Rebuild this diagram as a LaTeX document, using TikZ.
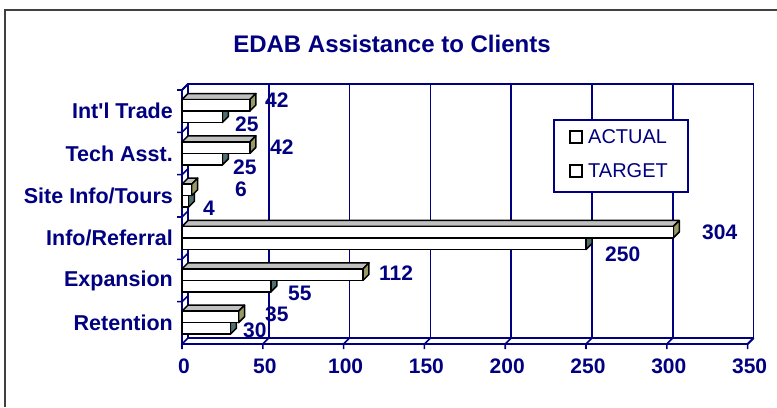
\documentclass[tikz,border=0pt]{standalone}
\usepackage{fontspec}
\setmainfont{Liberation Sans}
\definecolor{navy}{RGB}{0,0,128}
\definecolor{topgrey}{RGB}{192,192,192}
\definecolor{actside}{RGB}{153,153,102}
\definecolor{tgtside}{RGB}{80,112,112}
\definecolor{framegrey}{RGB}{64,64,64}

\tikzset{
  axisline/.style={navy,line width=1.8bp},
  gridline/.style={navy,line width=1.6bp},
  barface/.style={draw=black,line width=1.5bp,line join=round},
  titletext/.style={text=navy,inner sep=0pt,font=\fontsize{24bp}{28bp}\selectfont\bfseries},
  catlabel/.style={anchor=east,text=navy,inner sep=0pt,font=\fontsize{21.5bp}{24bp}\selectfont\bfseries},
  vallabel/.style={anchor=west,text=navy,inner sep=0pt,font=\fontsize{21bp}{24bp}\selectfont\bfseries},
  ticklabel/.style={text=navy,inner sep=0pt,font=\fontsize{21bp}{24bp}\selectfont\bfseries},
  legendtext/.style={anchor=west,text=navy,inner sep=0pt,font=\fontsize{20bp}{24bp}\selectfont},
  legendkey/.style={draw=black,fill=white,line width=1.5bp}
}

\begin{document}
\begin{tikzpicture}[x=1bp,y=-1bp]
  \useasboundingbox[fill=white] (0,0) rectangle (777,407);
  \draw[framegrey,line width=2bp] (5,407) -- (5,10) -- (777,10);
  \node[titletext] (title) at (392,44) {EDAB Assistance to Clients};

  % back wall, grid and floor
  \foreach \v in {50,100,...,300}
    \draw[gridline] ({188+1.616*\v},84) -- ({188+1.616*\v},338);
  \draw[gridline] (188,338) -- (188,84) -- (753.6,84) -- (753.6,338) -- (188,338);
  \foreach \v in {0,50,...,350} {
    \draw[gridline] ({182+1.616*\v},349) -- ({182+1.616*\v},344) -- ({188+1.616*\v},338);
    \node[ticklabel] (x\v) at ({184+1.616*\v},366) {\v};
  }
  \draw[axisline] (753.6,338) -- (747.6,344) -- (182,344) -- (182,90) -- (188,84);
  \foreach \i in {0,...,5}
    \draw[gridline] (177,{90+42.33*\i}) -- (182,{90+42.33*\i}) -- (188,{84+42.33*\i});

  % bars: target first, actual over it
  \foreach \k/\a/\t in {0/42/25,1/42/25,2/6/4,3/304/250,4/112/55,5/35/30} {
    \pgfmathsetmacro{\T}{90+42.33*\k}
    \pgfmathsetmacro{\xa}{182+1.616*\a}
    \pgfmathsetmacro{\xt}{182+1.616*\t}
    \filldraw[barface,fill=topgrey] (182,\T+21) -- (188,\T+15) -- (\xt+6,\T+15) -- (\xt,\T+21) -- cycle;
    \filldraw[barface,fill=tgtside] (\xt,\T+21) -- (\xt+6,\T+15) -- (\xt+6,\T+26.5) -- (\xt,\T+32.5) -- cycle;
    \filldraw[barface,fill=white] (182,\T+21) rectangle (\xt,\T+32.5);
    \filldraw[barface,fill=topgrey] (182,\T+9.5) -- (188,\T+3.5) -- (\xa+6,\T+3.5) -- (\xa,\T+9.5) -- cycle;
    \filldraw[barface,fill=actside] (\xa,\T+9.5) -- (\xa+6,\T+3.5) -- (\xa+6,\T+15) -- (\xa,\T+21) -- cycle;
    \filldraw[barface,fill=white] (182,\T+9.5) rectangle (\xa,\T+21);
  }

  % category names
  \foreach \k/\name in {0/{Int\textquotesingle l Trade},1/{Tech Asst.},2/{Site Info/Tours},3/{Info/Referral},4/{Expansion\ },5/{Retention}}
    \node[catlabel] (cat\k) at (173,{111.2+42.33*\k}) {\name};

  % value labels
  \node[vallabel] (tradeA) at (265,100) {42};
  \node[vallabel] (tradeT) at (235,124) {25};
  \node[vallabel] (techA) at (270,147) {42};
  \node[vallabel] (techT) at (233,167) {25};
  \node[vallabel] (siteA) at (235,189) {6};
  \node[vallabel] (siteT) at (203,208) {4};
  \node[vallabel] (referA) at (702,232) {304};
  \node[vallabel] (referT) at (605,254) {250};
  \node[vallabel] (expanA) at (379,273) {112};
  \node[vallabel] (expanT) at (288,293) {55};
  \node[vallabel] (retenA) at (265,314) {35};
  \node[vallabel] (retenT) at (243,330) {30};

  % legend
  \node[draw=navy,fill=white,line width=1.8bp,minimum width=134bp,minimum height=72bp] (legend) at (621,156) {};
  \draw[legendkey] (570,131) rectangle (582,143);
  \draw[legendkey] (570,165) rectangle (582,177);
  \node[legendtext] (actual) at (588,137) {ACTUAL};
  \node[legendtext] (target) at (588,171) {TARGET};
\end{tikzpicture}
\end{document}
